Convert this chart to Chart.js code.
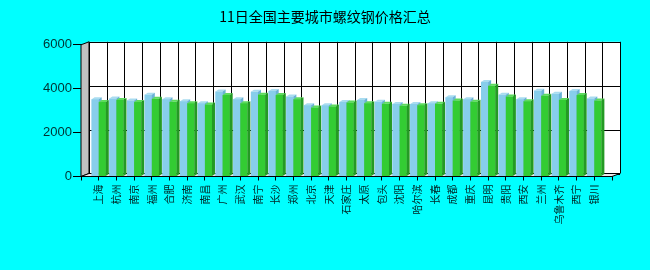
<!DOCTYPE html>
<html>
<head>
<meta charset="utf-8">
<script src="https://cdn.jsdelivr.net/npm/chart.js@4/dist/chart.umd.min.js"></script>
<style>
  html, body { margin: 0; padding: 0; background: #00FFFF; }
  #wrap { width: 650px; height: 270px; }
</style>
</head>
<body>
<div id="wrap"><canvas id="chart" width="650" height="270"></canvas></div>
<script>
// Chart data
const cities = ['上海', '杭州', '南京', '福州', '合肥', '济南', '南昌', '广州', '武汉', '南宁',
  '长沙', '郑州', '北京', '天津', '石家庄', '太原', '包头', '沈阳', '哈尔滨', '长春',
  '成都', '重庆', '昆明', '贵阳', '西安', '兰州', '乌鲁木齐', '西宁', '银川'];
const priceA = [3520, 3550, 3460, 3730, 3520, 3430, 3340, 3870, 3520, 3860,
  3900, 3640, 3250, 3250, 3390, 3480, 3410, 3300, 3300, 3340,
  3610, 3520, 4310, 3730, 3520, 3910, 3770, 3890, 3550];
const priceB = [3390, 3490, 3390, 3540, 3400, 3340, 3280, 3710, 3340, 3730,
  3710, 3520, 3140, 3190, 3370, 3340, 3310, 3220, 3250, 3310,
  3460, 3410, 4130, 3640, 3430, 3680, 3490, 3710, 3460];
const yTicks = [0, 2000, 4000, 6000];

// empty slot at each end of the axis
const labels = [''].concat(cities, ['']);
const pad = arr => [null].concat(arr, [null]);

const WALL_DX = 8, WALL_DY = 3;
const BAR_DX = 3, BAR_DY = 2;

const faces = [
  { front: '#87CEEB', top: '#A9DCF0', side: '#6AB2D6' },
  { front: '#33CC33', top: '#5EDB5E', side: '#249A24' }
];

// Back wall, left wall and floor
const wallPlugin = {
  id: 'walls',
  beforeDatasetsDraw(chart) {
    const { ctx, chartArea: ca, scales } = chart;
    ctx.save();
    ctx.fillStyle = '#FFFFFF';
    ctx.fillRect(ca.left + WALL_DX, ca.top - WALL_DY, ca.right - ca.left, ca.bottom - ca.top);

    ctx.strokeStyle = '#000000';
    ctx.lineWidth = 1;
    ctx.beginPath();
    yTicks.forEach(v => {
      const y = Math.round(scales.y.getPixelForValue(v) - WALL_DY) + 0.5;
      ctx.moveTo(ca.left + WALL_DX, y);
      ctx.lineTo(ca.right + WALL_DX, y);
    });
    for (let i = 0; i < labels.length; i++) {
      const x = Math.round(scales.x.getPixelForTick(i) + WALL_DX) + 0.5;
      ctx.moveTo(x, ca.top - WALL_DY);
      ctx.lineTo(x, ca.bottom - WALL_DY);
    }
    ctx.stroke();

    // left wall
    ctx.fillStyle = '#C0C0C0';
    ctx.beginPath();
    ctx.moveTo(ca.left, ca.top);
    ctx.lineTo(ca.left + WALL_DX, ca.top - WALL_DY);
    ctx.lineTo(ca.left + WALL_DX, ca.bottom - WALL_DY);
    ctx.lineTo(ca.left, ca.bottom);
    ctx.closePath();
    ctx.fill();
    ctx.stroke();

    // floor
    ctx.fillStyle = '#E8E8E8';
    ctx.beginPath();
    ctx.moveTo(ca.left, ca.bottom);
    ctx.lineTo(ca.left + WALL_DX, ca.bottom - WALL_DY);
    ctx.lineTo(ca.right + WALL_DX, ca.bottom - WALL_DY);
    ctx.lineTo(ca.right, ca.bottom);
    ctx.closePath();
    ctx.fill();
    ctx.stroke();
    ctx.restore();
  },
  // 3D faces of the bars
  afterDatasetsDraw(chart) {
    const { ctx } = chart;
    const metas = [chart.getDatasetMeta(0), chart.getDatasetMeta(1)];
    ctx.save();
    for (let i = 0; i < labels.length; i++) {
      metas.forEach((meta, d) => {
        const el = meta.data[i];
        if (!el || chart.data.datasets[d].data[i] == null) return;
        const { x, y, base, width } = el.getProps(['x', 'y', 'base', 'width'], true);
        const l = x - width / 2, r = x + width / 2;
        const f = faces[d];
        ctx.fillStyle = f.front;
        ctx.fillRect(l, y, width, base - y);
        ctx.fillStyle = f.top;
        ctx.beginPath();
        ctx.moveTo(l, y);
        ctx.lineTo(l + BAR_DX, y - BAR_DY);
        ctx.lineTo(r + BAR_DX, y - BAR_DY);
        ctx.lineTo(r, y);
        ctx.closePath();
        ctx.fill();
        ctx.fillStyle = f.side;
        ctx.beginPath();
        ctx.moveTo(r, y);
        ctx.lineTo(r + BAR_DX, y - BAR_DY);
        ctx.lineTo(r + BAR_DX, base - BAR_DY);
        ctx.lineTo(r, base);
        ctx.closePath();
        ctx.fill();
      });
    }
    ctx.restore();
  }
};

const ctx = document.getElementById('chart').getContext('2d');
new Chart(ctx, {
  type: 'bar',
  data: {
    labels: labels,
    datasets: [
      { label: 'A', data: pad(priceA), backgroundColor: faces[0].front, borderWidth: 0 },
      { label: 'B', data: pad(priceB), backgroundColor: faces[1].front, borderWidth: 0 }
    ]
  },
  options: {
    responsive: false,
    animation: false,
    events: [],
    categoryPercentage: 0.8,
    barPercentage: 1.0,
    layout: { padding: 0 },
    plugins: {
      legend: { display: false },
      tooltip: { enabled: false },
      title: {
        display: true,
        text: '11日全国主要城市螺纹钢价格汇总',
        color: '#000000',
        font: { family: '"Noto Sans CJK SC"', size: 14, weight: 'normal' },
        padding: { top: 8, bottom: 20 }
      }
    },
    scales: {
      x: {
        offset: false,
        grid: { offset: false, drawOnChartArea: false, drawTicks: true, tickLength: 4, color: '#000000' },
        border: { color: '#000000' },
        ticks: {
          autoSkip: false,
          minRotation: 90,
          maxRotation: 90,
          padding: 4,
          color: '#002222',
          font: { family: '"Noto Sans CJK SC"', size: 10 }
        },
        afterFit: scale => { scale.height = 93.5; }
      },
      y: {
        min: 0,
        max: 6000,
        afterBuildTicks: scale => { scale.ticks = yTicks.map(v => ({ value: v })); },
        grid: { drawOnChartArea: false, drawTicks: true, tickLength: 8, color: '#000000' },
        border: { color: '#000000' },
        ticks: {
          padding: 1,
          color: '#003333',
          font: { family: '"Liberation Sans"', size: 13 },
          callback: v => String(v)
        },
        afterFit: scale => { scale.width = 81; }
      },
      // blank strip on the right so the title stays centred on the page
      yRight: {
        position: 'right',
        min: 0,
        max: 6000,
        grid: { display: false },
        border: { display: false },
        ticks: { display: false },
        afterFit: scale => { scale.width = 38; }
      }
    }
  },
  plugins: [wallPlugin]
});
</script>
</body>
</html>
